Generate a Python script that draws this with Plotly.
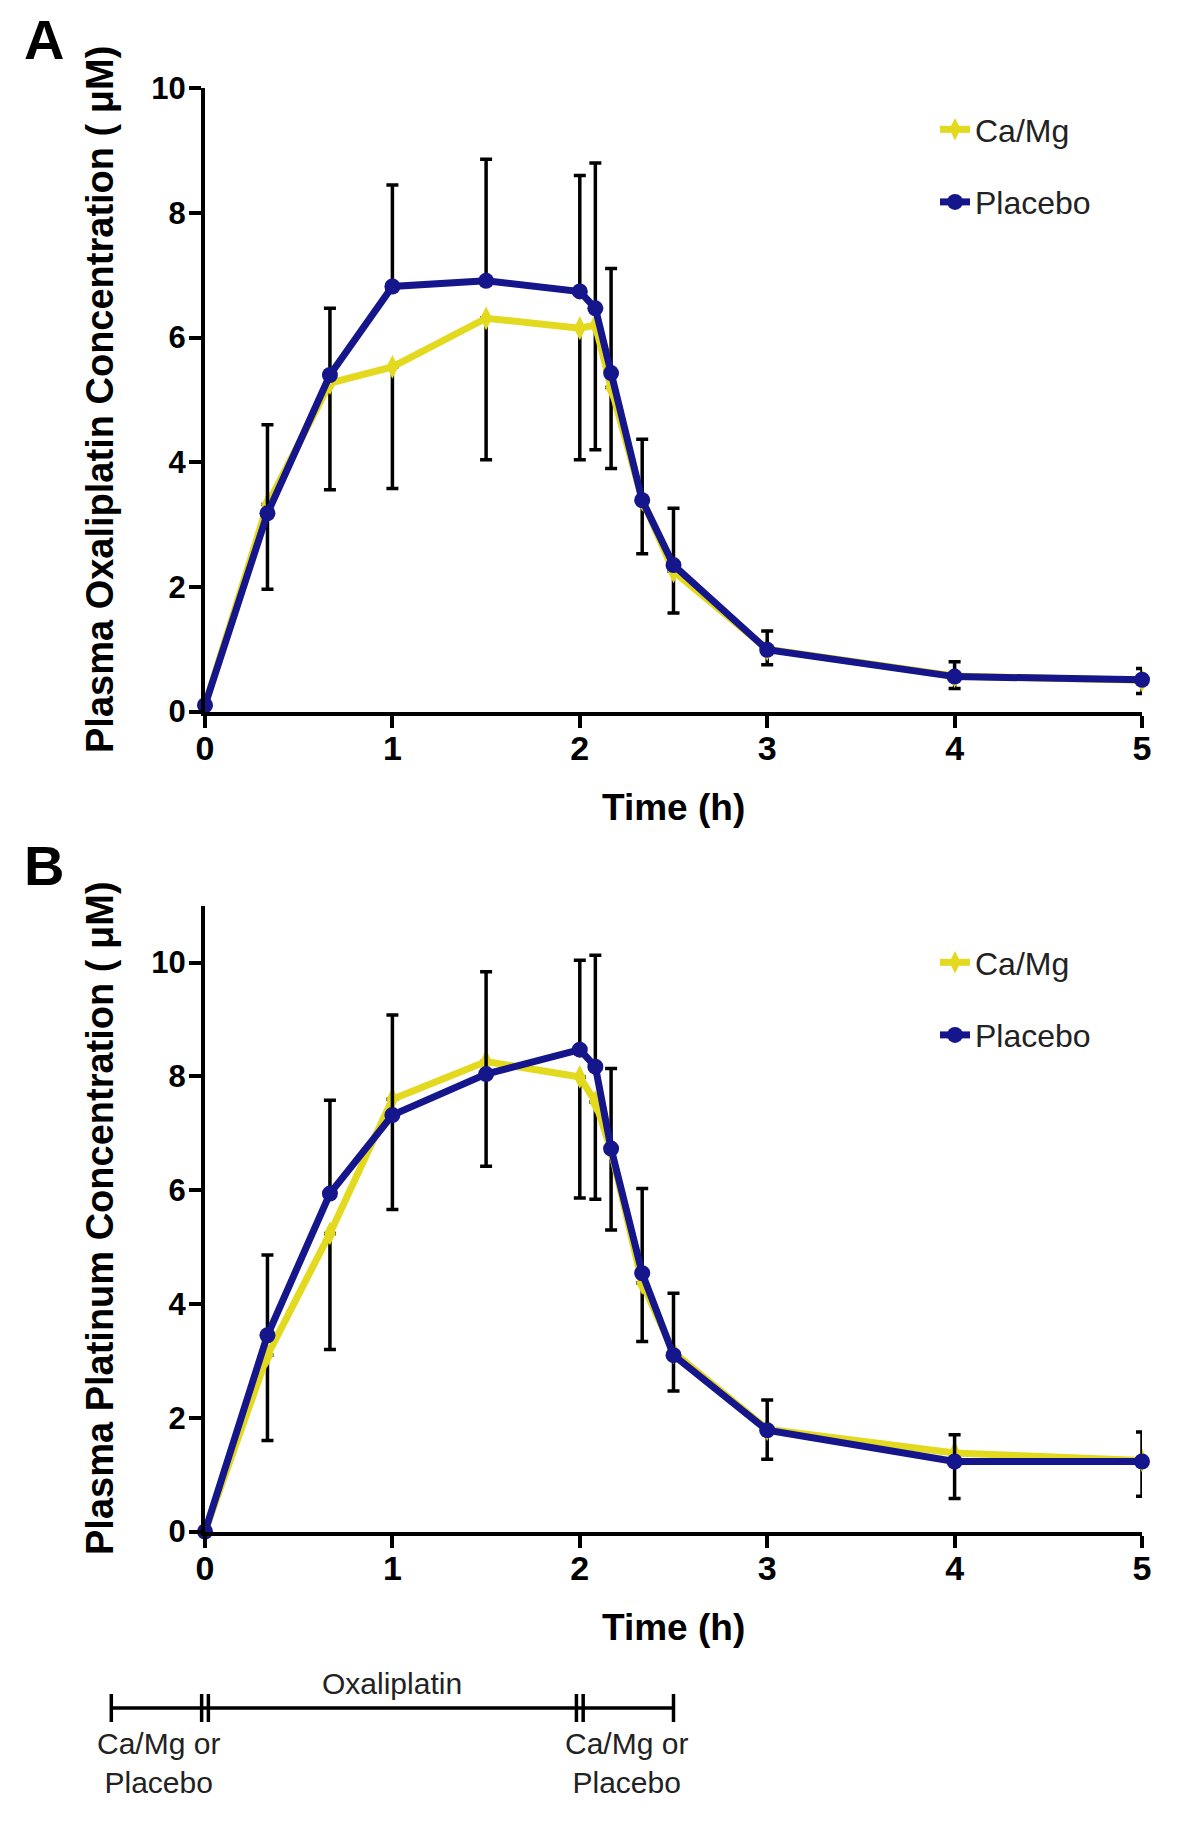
import plotly.graph_objects as go

# ---------------- data ----------------
time_h = [0, 1/3, 2/3, 1, 1.5, 2, 2.083, 2.167, 2.333, 2.5, 3, 4, 5]

# Panel A: plasma oxaliplatin (uM)
oxa_camg = [0.10, 3.32, 5.27, 5.53, 6.31, 6.15, 6.20, 5.20, 3.40, 2.25, 1.00, 0.57, 0.50]
oxa_camg_sd = [0, 1.36, 1.71, 1.95, 2.27, 2.11, 2.00, 1.30, 0.87, 0.67, 0.25, 0.20, 0.21]
oxa_placebo = [0.10, 3.18, 5.40, 6.82, 6.91, 6.74, 6.47, 5.43, 3.39, 2.35, 0.99, 0.56, 0.51]
oxa_placebo_sd = [0, 1.42, 1.07, 1.63, 1.95, 1.86, 2.33, 1.68, 0.98, 0.91, 0.30, 0.24, 0.18]

# Panel B: plasma platinum (uM)
pt_camg = [0, 3.10, 5.24, 7.60, 8.26, 7.99, 7.55, 6.70, 4.37, 3.15, 1.80, 1.38, 1.25]
pt_camg_sd = [0, 1.50, 2.04, 1.94, 1.84, 2.13, 1.71, 1.40, 1.03, 0.68, 0.53, 0.80, 0.63]
pt_placebo = [0, 3.45, 5.94, 7.32, 8.04, 8.47, 8.17, 6.73, 4.54, 3.10, 1.78, 1.23, 1.23]
pt_placebo_sd = [0, 1.41, 1.64, 1.76, 1.80, 1.57, 1.96, 1.41, 1.49, 1.09, 0.53, 0.47, 0.52]

x_ticks = [0, 1, 2, 3, 4, 5]
y_ticks = [0, 2, 4, 6, 8, 10]

# dosing schedule (hours)
phase_bounds = [-0.5, 0, 2, 2.5]
phase_labels = ["Ca/Mg or<br>Placebo", "Oxaliplatin", "Ca/Mg or<br>Placebo"]

# ---------------- style ----------------
OFF = 8                      # page body margin
W, H = 1200 - 2 * OFF, 1825 - 2 * OFF
FONT = "Liberation Sans, Arial, sans-serif"
YELLOW = "#E3D91E"
NAVY = "#15158C"


def px(p):
    return (p - OFF) / W


def py(p):
    return (H - (p - OFF)) / H


XDOM = [px(205), px(1142)]
YDOM_A = [py(711.5), py(88.3)]
YDOM_B = [py(1531.5), py(905.7)]

fig = go.Figure()


def add_pair(xa, ya, camg, camg_sd, plac, plac_sd, legend):
    fig.add_trace(go.Scatter(
        x=time_h, y=camg, name="Ca/Mg", mode="lines+markers",
        xaxis=xa, yaxis=ya, legend=legend, legendgroup=legend + "c",
        line=dict(color=YELLOW, width=7),
        marker=dict(symbol="diamond-tall", size=17, color=YELLOW),
        error_y=dict(type="data", symmetric=False, array=[0] * len(camg),
                     arrayminus=camg_sd, color="black", thickness=3.5, width=6),
        cliponaxis=False))
    fig.add_trace(go.Scatter(
        x=time_h, y=plac, name="Placebo", mode="lines+markers",
        xaxis=xa, yaxis=ya, legend=legend, legendgroup=legend + "p",
        line=dict(color=NAVY, width=7),
        marker=dict(symbol="circle", size=16, color=NAVY),
        error_y=dict(type="data", symmetric=False, array=plac_sd,
                     arrayminus=[0] * len(plac), color="black", thickness=3.5, width=6),
        cliponaxis=False))


add_pair("x", "y", oxa_camg, oxa_camg_sd, oxa_placebo, oxa_placebo_sd, "legend")
add_pair("x2", "y2", pt_camg, pt_camg_sd, pt_placebo, pt_placebo_sd, "legend2")

# timeline trace on its own axes (same hour scale as the plots)
d = 0.018
tx, ty = [], []
tx += [phase_bounds[0], phase_bounds[-1], None]; ty += [0, 0, None]
for b in (phase_bounds[0], phase_bounds[-1]):
    tx += [b, b, None]; ty += [-1, 1, None]
for b in (phase_bounds[1], phase_bounds[2]):
    for s in (-d, d):
        tx += [b + s, b + s, None]; ty += [-1, 1, None]
fig.add_trace(go.Scatter(x=tx, y=ty, mode="lines", xaxis="x3", yaxis="y3",
                         line=dict(color="black", width=3.5), showlegend=False,
                         hoverinfo="skip"))

ppu = (XDOM[1] - XDOM[0]) * W / 5.0
x3_range = [-XDOM[0] * W / ppu, (1 - XDOM[0]) * W / ppu]

axis_common = dict(showline=True, linecolor="black", linewidth=4, ticks="outside",
                   ticklen=12, tickwidth=4, tickcolor="black", showgrid=False,
                   zeroline=False, mirror=False, automargin=False)
ytickfont = dict(family=FONT, size=31, color="black", weight="bold")
xtickfont = dict(family=FONT, size=34, color="black", weight="bold")

fig.update_layout(
    template="none",
    width=W, height=H, margin=dict(l=0, r=0, t=0, b=0, autoexpand=False),
    paper_bgcolor="white", plot_bgcolor="white",
    font=dict(family=FONT, color="black"),
    xaxis=dict(domain=XDOM, range=[0, 5], anchor="y", tickvals=x_ticks,
               tickfont=xtickfont, ticklabelstandoff=-8, **axis_common),
    yaxis=dict(domain=YDOM_A, range=[0, 10], anchor="x", tickvals=y_ticks,
               tickfont=ytickfont, ticklabelstandoff=-3, **axis_common),
    xaxis2=dict(domain=XDOM, range=[0, 5], anchor="y2", tickvals=x_ticks,
                tickfont=xtickfont, ticklabelstandoff=-8, **axis_common),
    yaxis2=dict(domain=YDOM_B, range=[0, 11], anchor="x2", tickvals=y_ticks,
                tickfont=ytickfont, ticklabelstandoff=-3, **axis_common),
    xaxis3=dict(domain=[0, 1], range=x3_range, anchor="y3", visible=False,
                automargin=False),
    yaxis3=dict(domain=[py(1730), py(1686)], range=[-22 / 14, 22 / 14], anchor="x3",
                visible=False, automargin=False),
    legend=dict(x=px(935), y=py(102), xanchor="left", yanchor="top",
                font=dict(family=FONT, size=32, color="#222"),
                traceorder="grouped", tracegroupgap=28, bgcolor="rgba(0,0,0,0)"),
    legend2=dict(x=px(935), y=py(935), xanchor="left", yanchor="top",
                 font=dict(family=FONT, size=32, color="#222"),
                 traceorder="grouped", tracegroupgap=28, bgcolor="rgba(0,0,0,0)"),
)

ann = []


def label(text, x, y, size, xref="paper", angle=0, bold=True, color="black"):
    f = dict(size=size, family=FONT, color=color)
    if bold:
        f["weight"] = "bold"
    ann.append(dict(text=text, x=x, y=y, xref=xref, yref="paper", showarrow=False,
                    xanchor="center", yanchor="middle", textangle=angle, font=f))


# panel letters
label("A", px(44), py(39), 56)
label("B", px(44), py(866), 56)
# y titles
label("Plasma Oxaliplatin Concentration ( μM)", px(100), py(400), 38, angle=-90)
label("Plasma Platinum Concentration ( μM)", px(100), py(1218), 38, angle=-90)
# x titles
for yy in (807, 1627):
    label("Time (h)", px(673), py(yy), 37)
# timeline labels
mids = [(phase_bounds[i] + phase_bounds[i + 1]) / 2 for i in range(3)]
label(phase_labels[1], mids[1], py(1683), 30, xref="x3", bold=False, color="#222")
for i in (0, 2):
    label(phase_labels[i], mids[i], py(1763), 30, xref="x3", bold=False, color="#222")
fig.update_layout(annotations=ann)

fig.write_html("out.html")
